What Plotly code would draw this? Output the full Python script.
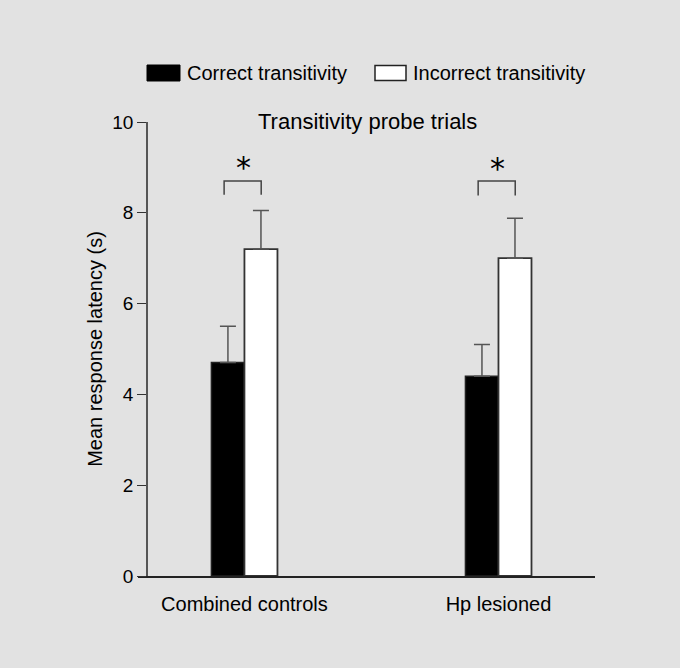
import plotly.graph_objects as go

categories = ["Combined controls", "Hp lesioned"]
correct = [4.7, 4.4]
correct_err = [0.8, 0.7]
incorrect = [7.2, 7.0]
incorrect_err = [0.85, 0.88]
sig_bracket_top = [8.7, 8.7]
sig_bracket_bottom = [8.4, 8.38]
sig_star_y = [9.0, 8.98]
y_ticks = [0, 2, 4, 6, 8, 10]
series_names = ["Correct transitivity", "Incorrect transitivity"]

BG = "#e2e2e2"
FONT = "Liberation Sans, Arial, Helvetica, sans-serif"

fig = go.Figure()
fig.add_trace(go.Bar(
    x=categories, y=correct, name=series_names[0],
    marker=dict(color="black", line=dict(color="#222", width=1.5)),
    error_y=dict(type="data", symmetric=False, array=correct_err, arrayminus=[0, 0],
                 color="#555", thickness=1.5, width=8),
    showlegend=False,
))
fig.add_trace(go.Bar(
    x=categories, y=incorrect, name=series_names[1],
    marker=dict(color="white", line=dict(color="#333", width=1.8)),
    error_y=dict(type="data", symmetric=False, array=incorrect_err, arrayminus=[0, 0],
                 color="#555", thickness=1.5, width=8),
    showlegend=False,
))

shapes = []
annotations = []
for i in range(len(categories)):
    x0, x1 = i - 0.08, i + 0.066
    yt, yb = sig_bracket_top[i], sig_bracket_bottom[i]
    shapes.append(dict(type="path", xref="x", yref="y",
                       path=f"M {x0},{yb} L {x0},{yt} L {x1},{yt} L {x1},{yb}",
                       line=dict(color="#444", width=1.5)))
    annotations.append(dict(x=i - 0.005, y=sig_star_y[i], xref="x", yref="y", text="*",
                            showarrow=False, yanchor="middle",
                            font=dict(size=30, color="black", family="DejaVu Sans")))

# manual legend
W_PLOT, H_PLOT, L, T = 457, 454, 138, 122
def px(x):
    return (x - L) / W_PLOT
def py(y):
    return (T + H_PLOT - y) / H_PLOT

shapes.append(dict(type="rect", xref="paper", yref="paper",
                   x0=px(147), x1=px(180), y0=py(81), y1=py(65),
                   fillcolor="black", line=dict(color="black", width=1)))
shapes.append(dict(type="rect", xref="paper", yref="paper",
                   x0=px(375), x1=px(406), y0=py(80.5), y1=py(65.5),
                   fillcolor="white", line=dict(color="#222", width=1.5)))
annotations.append(dict(x=px(185), y=py(73), xref="paper", yref="paper",
                        text=series_names[0], showarrow=False, xanchor="left", yanchor="middle",
                        font=dict(size=20, color="black", family=FONT)))
annotations.append(dict(x=px(411), y=py(73), xref="paper", yref="paper",
                        text=series_names[1], showarrow=False, xanchor="left", yanchor="middle",
                        font=dict(size=20, color="black", family=FONT)))
annotations.append(dict(x=px(367), y=py(121), xref="paper", yref="paper",
                        text="Transitivity probe trials", showarrow=False,
                        xanchor="center", yanchor="middle",
                        font=dict(size=22, color="black", family=FONT)))

fig.update_layout(
    width=680, height=668,
    margin=dict(l=L, r=680 - L - W_PLOT, t=T, b=668 - T - H_PLOT),
    paper_bgcolor=BG, plot_bgcolor=BG,
    barmode="group", bargap=0.74, bargroupgap=0,
    font=dict(family=FONT, size=20, color="black"),
    shapes=shapes, annotations=annotations,
    xaxis=dict(range=[-0.419, 1.38], showline=True, linecolor="#222", linewidth=1.5,
               showgrid=False, zeroline=False, ticks="", ticklabelstandoff=9,
               tickfont=dict(size=20)),
    yaxis=dict(range=[0, 10], anchor="free", position=9 / W_PLOT,
               showline=True, linecolor="#555", linewidth=1.5,
               showgrid=False, zeroline=False,
               ticks="outside", ticklen=9, tickcolor="#333", tickwidth=1.2,
               tickvals=y_ticks, tickfont=dict(size=19),
               title=dict(text="Mean response latency (s)", font=dict(size=20), standoff=3)),
)

fig.write_html(
    "out.html",
    config={"displayModeBar": False},
    post_script="document.body.style.margin='0';document.body.style.overflow='hidden';",
)
